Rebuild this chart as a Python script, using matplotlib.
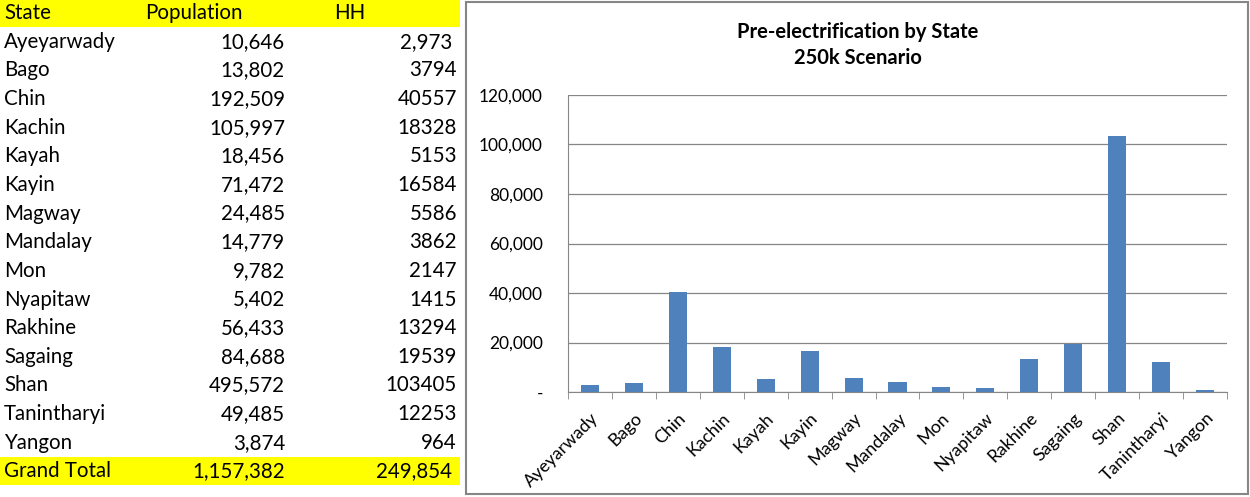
import matplotlib
matplotlib.use("Agg")
import matplotlib.pyplot as plt
from matplotlib.patches import Rectangle
from matplotlib.ticker import FuncFormatter, FixedLocator, NullFormatter

states = ["Ayeyarwady", "Bago", "Chin", "Kachin", "Kayah", "Kayin", "Magway",
          "Mandalay", "Mon", "Nyapitaw", "Rakhine", "Sagaing", "Shan",
          "Tanintharyi", "Yangon"]
population = ["10,646", "13,802", "192,509", "105,997", "18,456", "71,472", "24,485",
              "14,779", "9,782", "5,402", "56,433", "84,688", "495,572", "49,485", "3,874"]
hh_labels = ["2,973", "3794", "40557", "18328", "5153", "16584", "5586", "3862",
             "2147", "1415", "13294", "19539", "103405", "12253", "964"]
hh = [2973, 3794, 40557, 18328, 5153, 16584, 5586, 3862, 2147, 1415, 13294,
      19539, 103405, 12253, 964]
total_label = "Grand Total"
total_population = "1,157,382"
total_hh = "249,854"
headers = ["State", "Population", "HH"]
title = "Pre-electrification by State\n250k Scenario"
yticks = [0, 20000, 40000, 60000, 80000, 100000, 120000]

plt.rcParams['font.family'] = ['Lato', 'DejaVu Sans']

W, H = 1250, 497
fig = plt.figure(figsize=(W / 100, H / 100), dpi=100)

def fx(px):
    return px / W

def fy(py):
    return 1 - py / H

# ---- table ----
fs_tab = 14.8
row_h = 28.65
y0 = 13
fig.patches.append(Rectangle((fx(0), fy(27)), fx(460), 27 / H, transform=fig.transFigure,
                             facecolor="#FFFF00", edgecolor="none", zorder=-2))
fig.text(fx(4), fy(y0), headers[0], fontsize=fs_tab, va="center", ha="left")
fig.text(fx(145), fy(y0), headers[1], fontsize=fs_tab, va="center", ha="left")
fig.text(fx(334), fy(y0), headers[2], fontsize=fs_tab, va="center", ha="left")
for i, (s, p, h) in enumerate(zip(states, population, hh_labels)):
    yy = y0 + row_h * (i + 1)
    fig.text(fx(4), fy(yy), s, fontsize=fs_tab, va="center", ha="left")
    fig.text(fx(285), fy(yy), p, fontsize=fs_tab, va="center", ha="right")
    hx = 452 if h == "2,973" else 457
    fig.text(fx(hx), fy(yy), h, fontsize=fs_tab, va="center", ha="right")
yy = y0 + row_h * (len(states) + 1)
fig.patches.append(Rectangle((fx(0), fy(yy + 14)), fx(460), 28 / H, transform=fig.transFigure,
                             facecolor="#FFFF00", edgecolor="none", zorder=-2))
fig.text(fx(4), fy(yy), total_label, fontsize=fs_tab, va="center", ha="left")
fig.text(fx(285), fy(yy), total_population, fontsize=fs_tab, va="center", ha="right")
fig.text(fx(452), fy(yy), total_hh, fontsize=fs_tab, va="center", ha="right")

# ---- chart frame ----
fig.patches.append(Rectangle((fx(466), fy(494)), fx(1248 - 466), (494 - 2) / H,
                             transform=fig.transFigure, facecolor="white",
                             edgecolor="#868686", linewidth=1.5, zorder=-1))

ax = fig.add_axes([fx(568), fy(392), fx(1227 - 568), (392 - 95) / H])
ax.set_zorder(1)
ax.patch.set_alpha(0)
x = list(range(len(states)))
ax.bar(x, hh, width=0.41, color="#4F81BD", zorder=3)
ax.set_xlim(-0.5, len(states) - 0.5)
ax.set_ylim(0, 120000)
ax.set_yticks(yticks)
ax.yaxis.set_major_formatter(FuncFormatter(lambda v, p: "-" if v == 0 else f"{int(v):,}"))
ax.grid(axis="y", color="#868686", linewidth=0.9, zorder=0)
for sp in ["top", "right"]:
    ax.spines[sp].set_visible(False)
ax.spines["left"].set_color("#868686")
ax.spines["bottom"].set_color("#868686")
ax.tick_params(axis="y", length=0, pad=18, labelsize=12.5)
ax.set_xticks(x)
ax.set_xticklabels(states, rotation=45, ha="right", rotation_mode="anchor", fontsize=12.8)
ax.tick_params(axis="x", which="major", length=0, pad=13)
ax.xaxis.set_minor_locator(FixedLocator([i - 0.5 for i in range(len(states) + 1)]))
ax.xaxis.set_minor_formatter(NullFormatter())
ax.tick_params(axis="x", which="minor", length=5, color="#868686")
fig.text(fx(858), fy(45), title, fontsize=14.5, fontweight="bold", ha="center",
         va="center", linespacing=1.4)

fig.savefig("out.png", dpi=100)
